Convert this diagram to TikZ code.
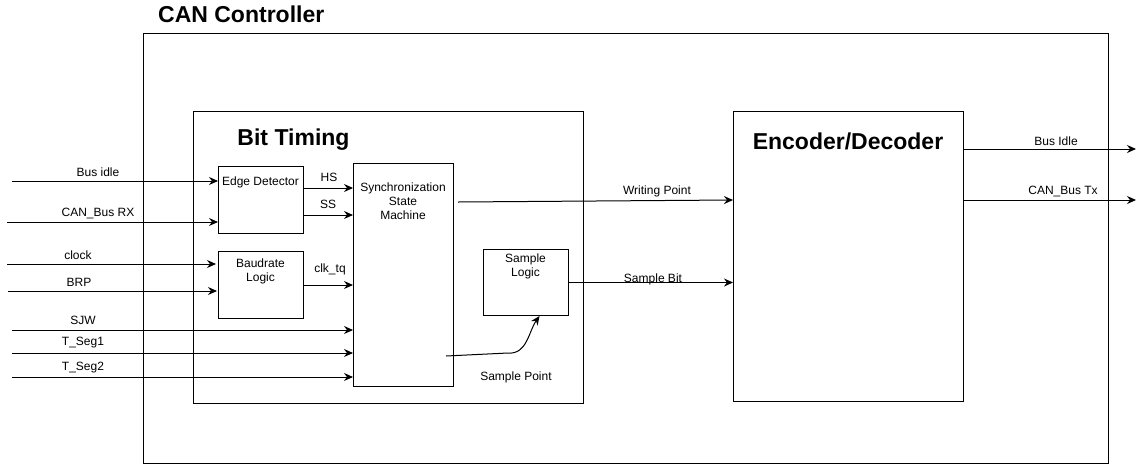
\documentclass[tikz,border=0pt]{standalone}
\usepackage{fontspec}
\setmainfont{Liberation Sans}
\usetikzlibrary{arrows.meta,positioning}

\tikzset{
  block/.style={rectangle, draw, line width=1pt, anchor=north west, inner sep=0pt},
  txt/.style={inner sep=0pt, align=center, font=\fontsize{12}{14}\selectfont},
  heading/.style={inner sep=0pt, font=\fontsize{23}{27}\selectfont\bfseries},
  arr/.style={-{Stealth[length=9pt,width=8pt,inset=3pt]}, line width=1pt}
}

\begin{document}
\begin{tikzpicture}[x=1pt,y=-1pt]
  \useasboundingbox (0,0) rectangle (1143,464);

  % outer boxes
  \node[block, minimum width=965, minimum height=430] (can) at (143,33) {};
  \node[heading, anchor=west] (cantitle) at (158,14) {CAN Controller};

  \node[block, minimum width=390, minimum height=292] (bt) at (193,111) {};
  \node[heading] (bttitle) at (293.5,140) {Bit Timing};

  \node[block, minimum width=230, minimum height=290] (enc) at (733,111) {};
  \node[heading] (enctitle) at (848,141) {Encoder/Decoder};

  % inner blocks
  \node[block, minimum width=85, minimum height=67] (edge) at (218,166) {};
  \node[txt] (edgetxt) at (260.5,182) {Edge Detector};

  \node[block, minimum width=85, minimum height=67] (baud) at (218,251) {};
  \node[txt] (baudtxt) at (260.5,271) {Baudrate\\Logic};

  \node[block, minimum width=100, minimum height=223] (sync) at (353,163) {};
  \node[txt] (synctxt) at (403,201) {Synchronization\\State\\Machine};

  \node[block, minimum width=85, minimum height=66] (sample) at (483,249) {};
  \node[txt] (sampletxt) at (525.5,266) {Sample\\Logic};

  % inputs
  \coordinate (busidle) at (12,181);
  \coordinate (canrx) at (7,222);
  \coordinate (clock) at (7,264);
  \coordinate (brp) at (8,291);
  \coordinate (sjw) at (12,330);
  \coordinate (tseg1) at (12,353);
  \coordinate (tseg2) at (12,377);

  \draw[arr] (busidle) -- (busidle -| edge.west);
  \draw[arr] (canrx) -- (canrx -| edge.west);
  \draw[arr] (clock) -- ([xshift=-2pt]clock -| baud.west);
  \draw[arr] (brp) -- ([xshift=-1pt]brp -| baud.west);
  \draw[arr] (sjw) -- (sjw -| sync.west);
  \draw[arr] (tseg1) -- (tseg1 -| sync.west);
  \draw[arr] (tseg2) -- (tseg2 -| sync.west);

  \node[txt] (lbusidle) at (98,172) {Bus idle};
  \node[txt] (lcanrx) at (98,213) {CAN\_Bus RX};
  \node[txt] (lclock) at (78,255) {clock};
  \node[txt] (lbrp) at (79,282) {BRP};
  \node[txt] (lsjw) at (83,320) {SJW};
  \node[txt] (ltseg1) at (83,343) {T\_Seg1};
  \node[txt] (ltseg2) at (83,368) {T\_Seg2};

  % internal signals
  \draw[arr] (edge.east |- 0,188) -- (sync.west |- 0,188);
  \draw[arr] (edge.east |- 0,215) -- (sync.west |- 0,215);
  \draw[arr] (baud.east) -- (baud.east -| sync.west);
  \node[txt] (lhs) at (329,177) {HS};
  \node[txt] (lss) at (328,204) {SS};
  \node[txt] (lclk) at (330,269) {clk\_tq};

  \coordinate (wp) at (458,202);
  \draw[arr] (wp) -- (enc.west |- 0,200);
  \node[txt] (lwp) at (657,191) {Writing Point};

  \draw[arr] (sample.east) -- (sample.east -| enc.west);
  \node[txt] (lsb) at (653,279) {Sample Bit};

  \coordinate (sp) at (446,356);
  \draw[arr] (sp) -- (508,353) to[out=-5,in=235] ([xshift=13.5pt]sample.south);
  \node[txt] (lsp) at (516,377) {Sample Point};

  % outputs
  \coordinate (busidleout) at (1136,149);
  \coordinate (cantx) at (1136,200);
  \draw[arr] (enc.east |- busidleout) -- (busidleout);
  \draw[arr] (enc.east |- cantx) -- (cantx);
  \node[txt] (lbusidleout) at (1056,141) {Bus Idle};
  \node[txt] (lcantx) at (1063,191) {CAN\_Bus Tx};
\end{tikzpicture}
\end{document}
